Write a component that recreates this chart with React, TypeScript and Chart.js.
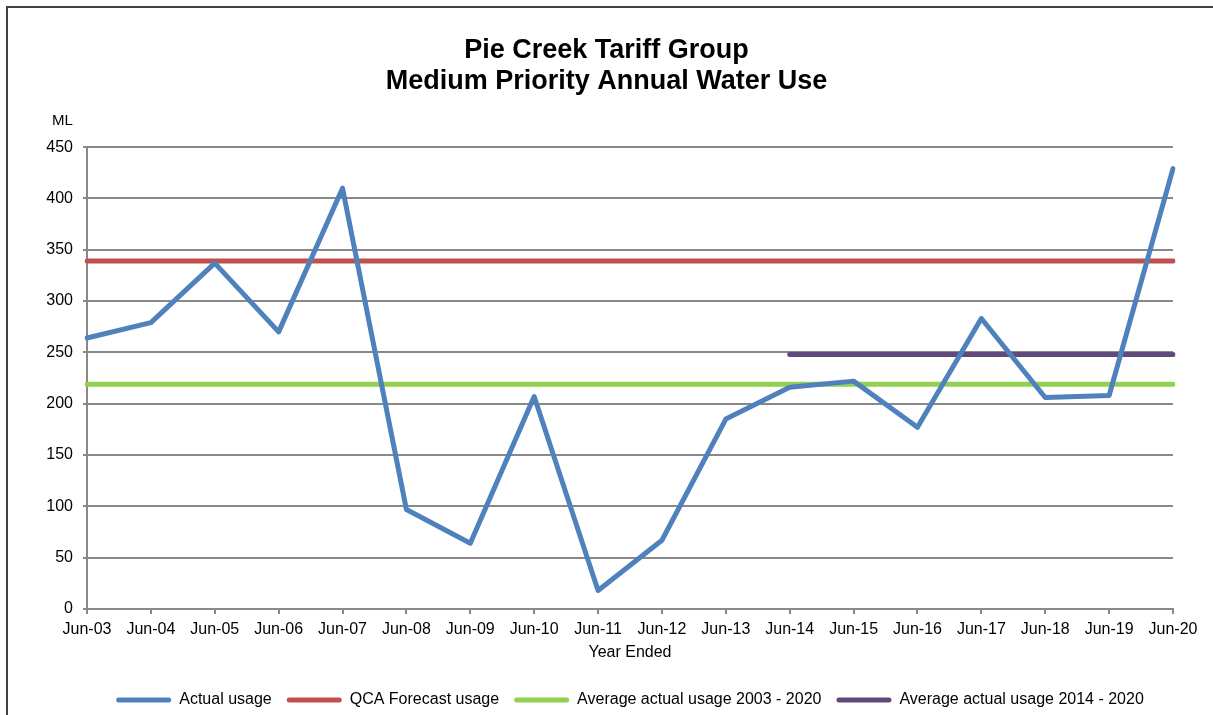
import React, { useEffect, useRef } from "react";
import { Chart, registerables } from "chart.js";

Chart.register(...registerables);

const categories = [
  "Jun-03", "Jun-04", "Jun-05", "Jun-06", "Jun-07", "Jun-08", "Jun-09", "Jun-10", "Jun-11",
  "Jun-12", "Jun-13", "Jun-14", "Jun-15", "Jun-16", "Jun-17", "Jun-18", "Jun-19", "Jun-20",
];
const actualUsage = [264, 279, 337, 270, 410, 97, 64, 207, 18, 67, 185, 216, 222, 177, 283, 206, 208, 429];
const qcaForecastUsage = [339, 339, 339, 339, 339, 339, 339, 339, 339, 339, 339, 339, 339, 339, 339, 339, 339, 339];
const averageUsage2003to2020 = [219, 219, 219, 219, 219, 219, 219, 219, 219, 219, 219, 219, 219, 219, 219, 219, 219, 219];
const averageUsage2014to2020 = [null, null, null, null, null, null, null, null, null, null, null, 248, 248, 248, 248, 248, 248, 248];
const seriesNames = ["Actual usage", "QCA Forecast usage", "Average actual usage 2003 - 2020", "Average actual usage 2014 - 2020"];
const seriesColors = ["#4F81BD", "#C0504D", "#92D050", "#604A7B"];
const titleLines = ["Pie Creek Tariff Group", "Medium Priority Annual Water Use"];
const yUnitLabel = "ML";
const xAxisTitle = "Year Ended";
const yMin = 0;
const yMax = 450;
const yStep = 50;

const FONT = "'Liberation Sans', Arial, Helvetica, sans-serif";
const GRID = "#898989";

const unitLabelPlugin = {
  id: "unitLabel",
  afterDraw(chart: any) {
    const { ctx, chartArea } = chart;
    ctx.save();
    ctx.font = `15px ${FONT}`;
    ctx.fillStyle = "#000";
    ctx.textAlign = "left";
    ctx.textBaseline = "middle";
    ctx.fillText(yUnitLabel, chartArea.left - 35, chartArea.top - 26);
    ctx.restore();
  },
};

export default function App() {
  const canvasRef = useRef<HTMLCanvasElement | null>(null);

  useEffect(() => {
    if (!canvasRef.current) return;
    const data = [actualUsage, qcaForecastUsage, averageUsage2003to2020, averageUsage2014to2020];
    const chart = new Chart(canvasRef.current, {
      type: "line",
      data: {
        labels: categories,
        datasets: data.map((d, i) => ({
          label: seriesNames[i],
          data: d as any,
          borderColor: seriesColors[i],
          backgroundColor: seriesColors[i],
          borderWidth: 5,
          pointRadius: 0,
          pointHoverRadius: 0,
          tension: 0,
          fill: false,
          spanGaps: false,
          borderCapStyle: "round" as const,
          borderJoinStyle: "round" as const,
        })),
      },
      options: {
        animation: false,
        responsive: false,
        maintainAspectRatio: false,
        events: [],
        layout: { padding: { left: 40, right: 40, top: 0, bottom: 12 } },
        plugins: {
          tooltip: { enabled: false },
          title: {
            display: true,
            text: titleLines,
            color: "#000",
            font: { family: FONT, size: 27, weight: "bold", lineHeight: 1.15 },
            padding: { top: 35, bottom: 50 },
          },
          legend: {
            display: true,
            position: "bottom",
            fullSize: false,
            labels: {
              color: "#000",
              font: { family: FONT, size: 16 },
              boxWidth: 55,
              boxHeight: 5,
              useBorderRadius: true,
              borderRadius: 2.5,
              padding: 15,
              generateLabels: (c: any) =>
                c.data.datasets.map((ds: any, i: number) => ({
                  text: ds.label,
                  fillStyle: ds.borderColor,
                  strokeStyle: ds.borderColor,
                  lineWidth: 0,
                  hidden: false,
                  datasetIndex: i,
                  fontColor: "#000",
                  borderRadius: 2.5,
                })),
            },
          },
        },
        scales: {
          x: {
            type: "category",
            offset: false,
            afterFit: (scale: any) => {
              scale.height = 68;
            },
            grid: { drawOnChartArea: false, drawTicks: true, tickLength: 5, color: GRID, lineWidth: 2 },
            border: { display: true, color: GRID, width: 2 },
            ticks: {
              color: "#000",
              font: { family: FONT, size: 16 },
              maxRotation: 0,
              autoSkip: false,
              padding: 6,
            },
            title: {
              display: true,
              text: xAxisTitle,
              color: "#000",
              font: { family: FONT, size: 16 },
              padding: { top: 4, bottom: 15 },
            },
          },
          y: {
            min: yMin,
            max: yMax,
            afterFit: (scale: any) => {
              scale.width = 47;
            },
            grid: { drawOnChartArea: true, drawTicks: true, tickLength: 4, color: GRID, lineWidth: 2 },
            border: { display: true, color: GRID, width: 2 },
            ticks: {
              stepSize: yStep,
              color: "#000",
              font: { family: FONT, size: 16 },
              padding: 10,
            },
          },
        },
      },
      plugins: [unitLabelPlugin],
    });
    return () => chart.destroy();
  }, []);

  return (
    <div
      style={{
        position: "fixed",
        left: 0,
        top: 0,
        width: 1213,
        height: 715,
        overflow: "hidden",
        background: "#fff",
      }}
    >
      <div
        style={{
          position: "absolute",
          left: 6,
          top: 6,
          width: 1400,
          height: 900,
          border: "2px solid #404040",
          boxSizing: "border-box",
        }}
      />
      <canvas
        ref={canvasRef}
        width={1213}
        height={730}
        style={{ position: "absolute", left: 0, top: 0, width: 1213, height: 730 }}
      />
    </div>
  );
}
